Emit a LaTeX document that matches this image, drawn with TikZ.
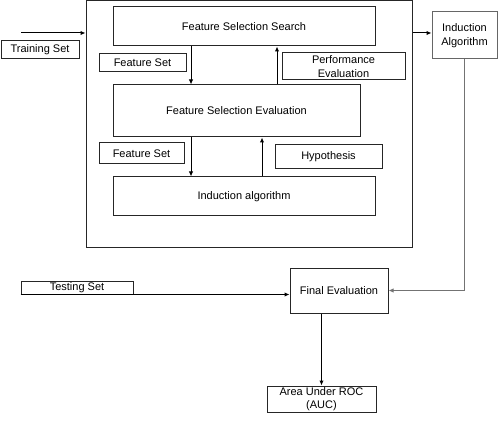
\documentclass[tikz,border=0pt]{standalone}
\usepackage{fontspec}
\setmainfont{Liberation Sans}
\usetikzlibrary{arrows.meta}
\begin{document}
\begin{tikzpicture}[x=1pt,y=-1pt,
  box/.style={draw=black!85, line width=1pt, rectangle, inner sep=0pt, align=center,
    font=\fontsize{11}{13.5}\selectfont},
  arr/.style={line width=1pt, -{Latex[length=5pt,width=4.5pt]}}]
\useasboundingbox (0,0) rectangle (498,422);
\node[box, minimum width=326, minimum height=247] (outer) at (249,124.5) {};
\node[box, minimum width=262, minimum height=39] (fss) at (244,26.5) {Feature Selection Search};
\node[box, minimum width=87, minimum height=18] (fs1) at (142.5,63) {Feature Set};
\node[box, minimum width=247, minimum height=52] (fse) at (236.5,111) {Feature Selection Evaluation};
\node[box, minimum width=123, minimum height=27] (perf) at (343.5,66.5) {Performance\\Evaluation};
\node[box, minimum width=85, minimum height=21] (fs2) at (141.5,153.5) {Feature Set};
\node[box, minimum width=262, minimum height=39] (ind) at (244,196.5) {Induction algorithm};
\node[box, minimum width=107, minimum height=24] (hyp) at (328.5,157) {Hypothesis};
\node[box, minimum width=78, minimum height=18] (train) at (40,50) {Training Set};
\node[box, draw=black!60, minimum width=65, minimum height=47] (ia) at (464.5,35.5) {Induction\\Algorithm};
\node[box, minimum width=98, minimum height=45] (fe) at (339,290.5) {Final Evaluation};
\node[box, minimum width=112, minimum height=13] (test) at (77,287.5) {Testing Set};
\node[box, minimum width=109, minimum height=26] (auc) at (321.5,399) {Area Under ROC\\(AUC)};
\coordinate (tin) at (21,33);
\coordinate (xa) at (191,0);
\coordinate (xb) at (277,0);
\coordinate (xc) at (262,0);
\draw[arr] (tin) -- (tin -| outer.west);
\draw[arr] (outer.east |- tin) -- (ia.west |- tin);
\draw[arr] (fss.south -| xa) -- (fse.north -| xa);
\draw[arr] (fse.north -| xb) -- (fss.south -| xb);
\draw[arr] (fse.south -| xa) -- (ind.north -| xa);
\draw[arr] (ind.north -| xc) -- (fse.south -| xc);
\draw[arr, draw=black!55, line width=1.3pt] (ia.south) |- (fe.east);
\draw[arr] (test.south west) -- (test.south west -| fe.west);
\draw[arr] (fe.south -| auc.north) -- (auc.north);
\end{tikzpicture}
\end{document}
